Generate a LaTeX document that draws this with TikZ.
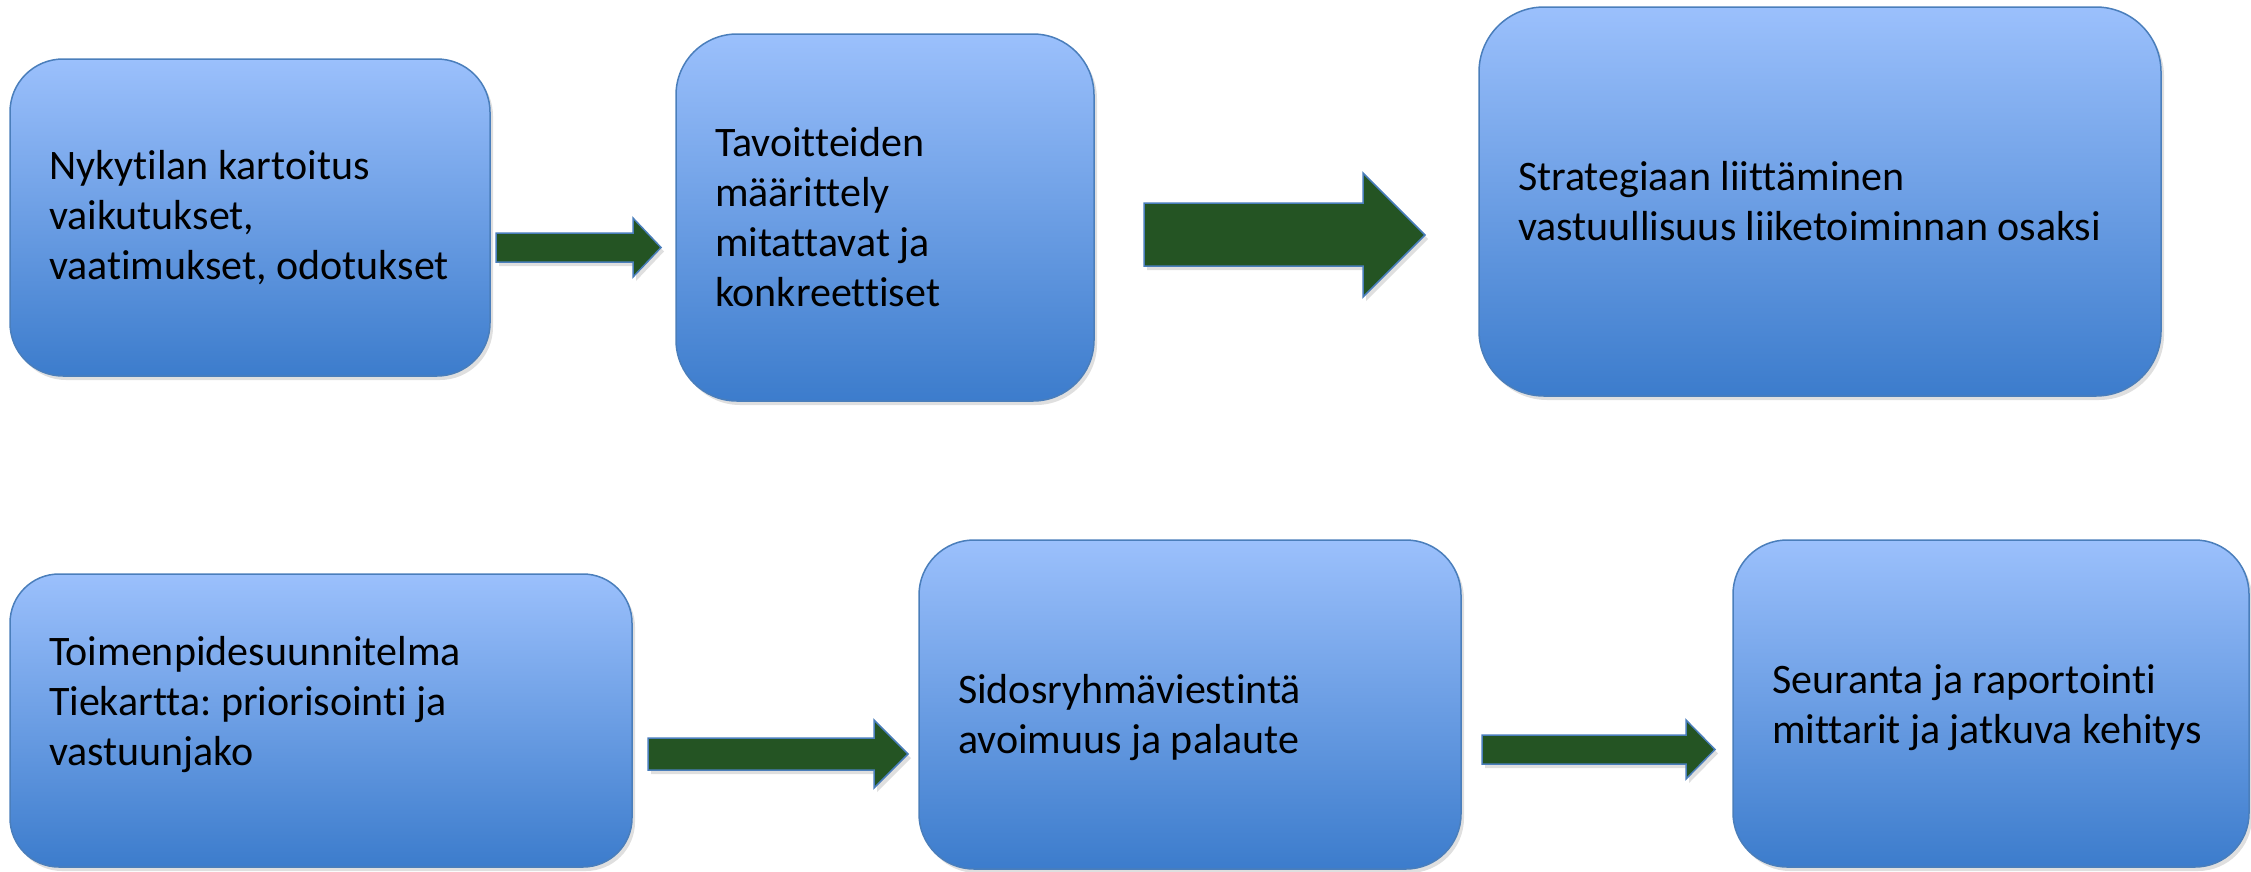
\documentclass[tikz,border=0pt]{standalone}
\usepackage{fontspec}
\setmainfont[Ligatures={NoCommon}]{Carlito}
\usepackage{tikz}
\usetikzlibrary{positioning, shadows, calc}

\definecolor{boxtop}{RGB}{155,192,252}
\definecolor{boxbottom}{RGB}{60,124,204}
\definecolor{boxline}{RGB}{74,126,187}
\definecolor{arrowfill}{RGB}{36,84,35}

\tikzset{
  stagebox/.style={draw=boxline, line width=1.5pt, top color=boxtop, bottom color=boxbottom,
    align=flush left, inner xsep=39pt, inner ysep=0pt, font=\fontsize{42}{50}\selectfont\frenchspacing,
    drop shadow={opacity=0.25, shadow xshift=3pt, shadow yshift=-4pt}},
  textup/.style={execute at end node={\par\vspace*{#1}}},
  textdown/.style={execute at begin node={\rule{0pt}{#1}}},
  bigarrow/.style={draw=boxline, line width=1.5pt, fill=arrowfill, line join=miter,
    drop shadow={opacity=0.25, shadow xshift=3pt, shadow yshift=-4pt}}
}

\begin{document}
\begin{tikzpicture}[x=1pt,y=1pt,yscale=-1,xscale=1]
        \useasboundingbox (0,0) rectangle (2251,871);

        %Rounded Rect 
        \node[stagebox, text width=402pt, minimum height=317pt, rounded corners=53pt] (kartoitus) at (250,217.5) {Nykytilan kartoitus\\vaikutukset,\\vaatimukset, odotukset};
        %Rounded Rect 
        \node[stagebox, text width=340pt, minimum height=367pt, rounded corners=61pt] (tavoitteet) at (885,217.5) {Tavoitteiden\\määrittely\\mitattavat ja\\konkreettiset};
        %Rounded Rect 
        \node[stagebox, text width=604pt, minimum height=389pt, rounded corners=65pt] (strategia) at (1820,201.5) {Strategiaan liittäminen\\vastuullisuus liiketoiminnan osaksi};
        %Rounded Rect 
        \node[stagebox, textup=32pt, text width=544pt, minimum height=293pt, rounded corners=49pt] (toimenpide) at (321,720.5) {Toimenpidesuunnitelma\\Tiekartta: priorisointi ja\\vastuunjako};
        %Rounded Rect 
        \node[stagebox, textdown=56pt, text width=464pt, minimum height=329pt, rounded corners=55pt] (viestinta) at (1190,704.5) {Sidosryhmäviestintä\\avoimuus ja palaute};
        %Rounded Rect 
        \node[stagebox, textdown=38pt, text width=438pt, minimum height=327pt, rounded corners=54pt] (seuranta) at (1991,703.5) {Seuranta ja raportointi\\mittarit ja jatkuva kehitys};

        %Right Arrow 
        \draw[bigarrow] (496,233) -- (633,233) -- (633,218) -- (661,247.5) -- (633,277) -- (633,262) -- (496,262) -- cycle ;
        %Right Arrow 
        \draw[bigarrow] (1144,203) -- (1363,203) -- (1363,173) -- (1425,235) -- (1363,297) -- (1363,266) -- (1144,266) -- cycle ;
        %Right Arrow 
        \draw[bigarrow] (648,738) -- (874,738) -- (874,720) -- (908,754) -- (874,788) -- (874,770) -- (648,770) -- cycle ;
        %Right Arrow 
        \draw[bigarrow] (1482,735) -- (1686,735) -- (1686,720) -- (1715,749.5) -- (1686,779) -- (1686,764) -- (1482,764) -- cycle ;

    \end{tikzpicture}
\end{document}
